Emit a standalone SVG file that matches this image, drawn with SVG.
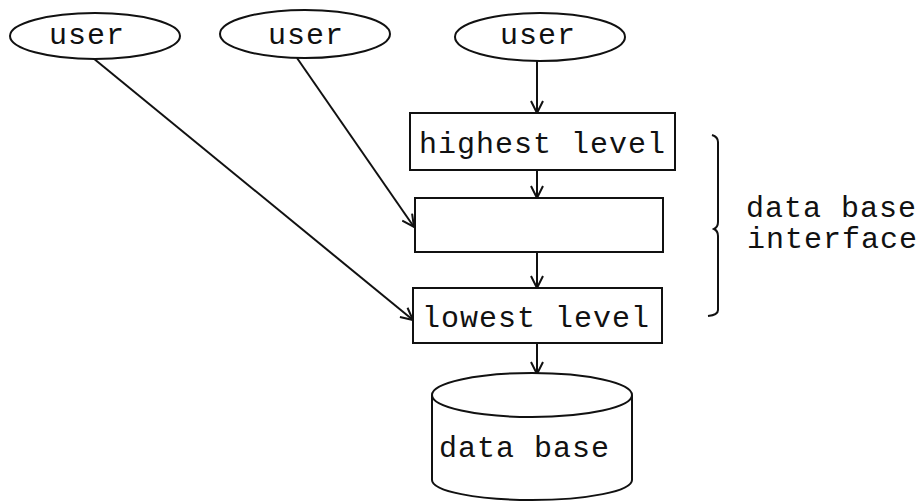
<svg xmlns="http://www.w3.org/2000/svg" width="923" height="503" viewBox="0 0 923 503">
<style>
.s{fill:#fff;stroke:#111;stroke-width:2}
.c{fill:none;stroke:#111;stroke-width:2}
.t{font-family:"Liberation Mono","Courier New",monospace;font-size:30px;letter-spacing:1px;fill:#111}
</style>
<defs>
<marker id="ah" viewBox="0 0 14 14" refX="13" refY="7" markerWidth="14" markerHeight="14" markerUnits="userSpaceOnUse" orient="auto">
<path d="M1,1 L13,7 L1,13" fill="none" stroke="#111" stroke-width="2"/>
</marker>
</defs>
<rect width="923" height="503" fill="#fff"/>
<g id="connectors">
<line class="c" x1="537" y1="61" x2="537" y2="113" marker-end="url(#ah)"/>
<line class="c" x1="537" y1="170" x2="537" y2="198" marker-end="url(#ah)"/>
<line class="c" x1="537" y1="252" x2="537" y2="288" marker-end="url(#ah)"/>
<line class="c" x1="537" y1="343" x2="537" y2="374" marker-end="url(#ah)"/>
<line class="c" x1="297" y1="58" x2="414" y2="227" marker-end="url(#ah)"/>
<line class="c" x1="93" y1="58" x2="413" y2="320" marker-end="url(#ah)"/>
</g>
<g id="user1">
<ellipse class="s" cx="95" cy="36" rx="85" ry="23"/>
<text class="t" x="49" y="44">user</text>
</g>
<g id="user2">
<ellipse class="s" cx="305" cy="34" rx="85" ry="24"/>
<text class="t" x="268" y="44">user</text>
</g>
<g id="user3">
<ellipse class="s" cx="540" cy="37" rx="85" ry="24"/>
<text class="t" x="500" y="44">user</text>
</g>
<g id="highest">
<rect class="s" x="410" y="113" width="265" height="57"/>
<text class="t" x="419" y="153">highest level</text>
</g>
<g id="middle">
<rect class="s" x="415" y="198" width="248" height="54"/>
</g>
<g id="lowest">
<rect class="s" x="413" y="288" width="249" height="55"/>
<text class="t" x="422" y="327">lowest level</text>
</g>
<g id="database">
<path class="s" d="M432,395 L432,480 A100,20 0 0 0 632,480 L632,395"/>
<ellipse class="s" cx="532" cy="395" rx="100" ry="22"/>
<text class="t" x="439" y="457">data base</text>
</g>
<g id="interface">
<path class="c" d="M712,135 Q718,137 718,142 L718,222 Q718,227 714,229 Q718,231 718,236 L718,310 Q718,315 708,316"/>
<text class="t" x="746" y="217">data base</text>
<text class="t" x="747" y="248">interface</text>
</g>
</svg>
